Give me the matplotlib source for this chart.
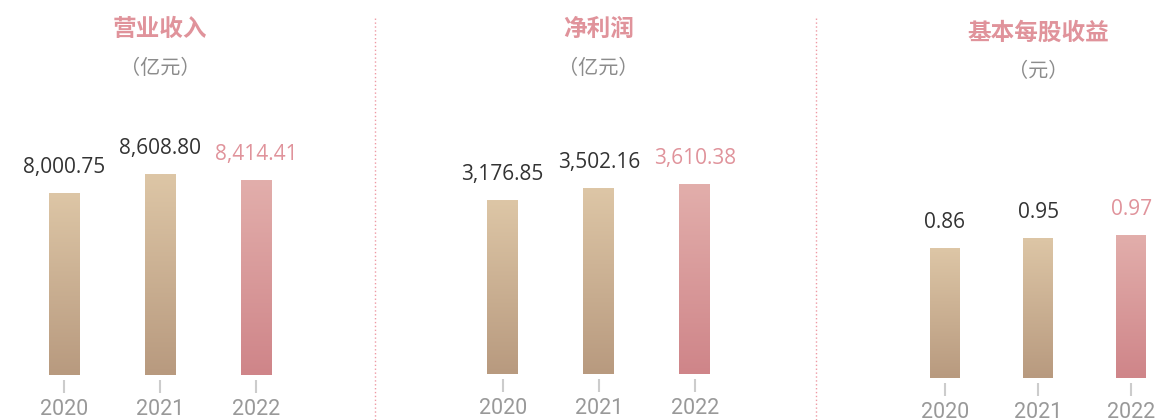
import numpy as np
import matplotlib
matplotlib.use("Agg")
import matplotlib.pyplot as plt
from matplotlib.lines import Line2D
from matplotlib.transforms import blended_transform_factory

# data
years = ["2020", "2021", "2022"]
revenue = [8000.75, 8608.80, 8414.41]
net_profit = [3176.85, 3502.16, 3610.38]
eps = [0.86, 0.95, 0.97]
revenue_labels = ["8,000.75", "8,608.80", "8,414.41"]
profit_labels = ["3,176.85", "3,502.16", "3,610.38"]
eps_labels = ["0.86", "0.95", "0.97"]
titles = ["营业收入", "净利润", "基本每股收益"]
units = ["（亿元）", "（亿元）", "（元）"]

W, H = 1157, 420
fig = plt.figure(figsize=(W / 100, H / 100), dpi=100)
fig.patch.set_facecolor("white")

tan_top, tan_bot = np.array([221, 198, 166]) / 255, np.array([184, 154, 127]) / 255
pink_top, pink_bot = np.array([226, 174, 171]) / 255, np.array([207, 133, 137]) / 255
pink_text = "#e0939b"
dark_text = "#333333"
gray_text = "#8c8c8c"


def gradient(top, bot):
    t = np.linspace(0, 1, 100)[:, None]
    return (top[None, :] * (1 - t) + bot[None, :] * t)[:, None, :]


# panels: (left px, width px, bottom px, ymin, ymax, title y, unit y)
panels = [
    (16, 288, 374.7, 2000, 14354, 29, 68),
    (454.7, 288, 373.7, -1500, 8573, 29, 68),
    (898.2, 279.8, 377.7, -0.3, 3.072, 33, 72),
]
values = [revenue, net_profit, eps]
labels = [revenue_labels, profit_labels, eps_labels]

for i, (left, width, bottom, ymin, ymax, ty, uy) in enumerate(panels):
    ax = fig.add_axes([left / W, (H - bottom) / H, width / W, bottom / H])
    ax.set_facecolor("none")
    x = np.arange(len(years))
    bars = ax.bar(x, [v - ymin for v in values[i]], bottom=ymin, width=0.32,
                  color="none", edgecolor="none")
    for j, b in enumerate(bars):
        x0, y0 = b.get_x(), b.get_y()
        x1, y1 = x0 + b.get_width(), y0 + b.get_height()
        if j == 2:
            g = gradient(pink_top, pink_bot)
        else:
            g = gradient(tan_top, tan_bot)
        im = ax.imshow(g, extent=(x0, x1, y0, y1), aspect="auto", zorder=2,
                       interpolation="bilinear")
        im.set_clip_path(b)
        ax.annotate(labels[i][j], (x0 + b.get_width() / 2, y1),
                    xytext=(0, 20), textcoords="offset pixels",
                    ha="center", va="baseline", fontsize=15,
                    family=["Open Sans", "DejaVu Sans"],
                    color=pink_text if j == 2 else dark_text)
    ax.set_xlim(-0.5, 2.5)
    ax.set_ylim(ymin, ymax)
    for s in ax.spines.values():
        s.set_visible(False)
    ax.spines["bottom"].set_position(("outward", 3.5))
    ax.set_yticks([])
    ax.set_xticks(x)
    ax.set_xticklabels(years, family="Roboto", fontsize=15.5, color="#999999")
    ax.tick_params(axis="x", length=9, width=1.5, color="#cccccc", pad=5)

    tr = blended_transform_factory(ax.transAxes, fig.transFigure)
    ax.text(0.5, 1 - ty / H, titles[i], transform=tr, ha="center", va="center",
            fontsize=17, fontweight="bold", color=pink_text,
            family=["Noto Sans CJK SC", "DejaVu Sans"])
    ax.text(0.5, 1 - uy / H, units[i], transform=tr, ha="center", va="center",
            fontsize=14.5, color=gray_text,
            family=["Noto Sans CJK SC", "DejaVu Sans"])

# dotted dividers
for xd in [374.5, 815.5]:
    fig.add_artist(Line2D([xd / W, xd / W], [0, 1 - 16 / H], transform=fig.transFigure,
                          color="#ee9aa4", linewidth=1, linestyle=(0, (1, 1.8))))

fig.savefig("out.png", dpi=100, facecolor="white")
